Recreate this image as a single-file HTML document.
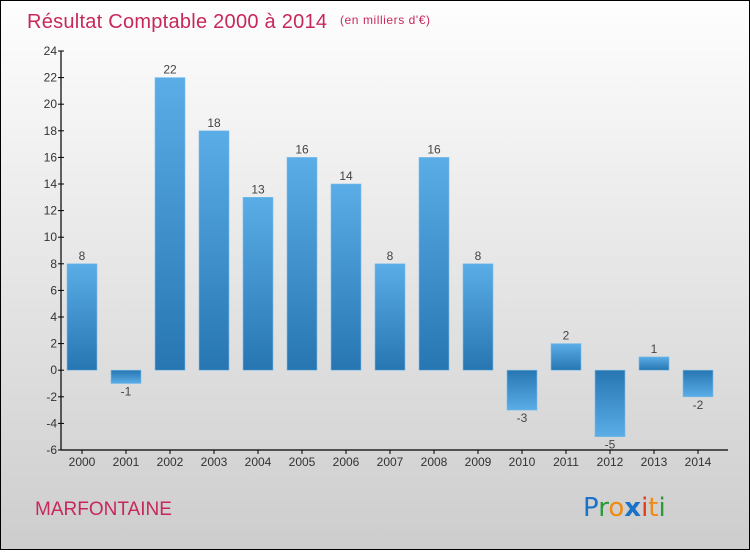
<!DOCTYPE html>
<html><head><meta charset="utf-8"><style>
html,body{margin:0;padding:0;}
body{width:750px;height:550px;overflow:hidden;font-family:"Liberation Sans",sans-serif;}
</style></head><body>
<svg width="750" height="550" xmlns="http://www.w3.org/2000/svg">
<defs>
<linearGradient id="bg" x1="0" y1="0" x2="0" y2="1"><stop offset="0" stop-color="#fefefe"/><stop offset="1" stop-color="#cdcdcd"/></linearGradient>
<linearGradient id="pos" x1="0" y1="0" x2="0" y2="1"><stop offset="0" stop-color="#5aade6"/><stop offset="1" stop-color="#2776b2"/></linearGradient>
<linearGradient id="neg" x1="0" y1="0" x2="0" y2="1"><stop offset="0" stop-color="#2776b2"/><stop offset="1" stop-color="#5aade6"/></linearGradient>
</defs>
<rect x="0.5" y="0.5" width="749" height="549" fill="url(#bg)" stroke="#000"/>
<text x="27" y="28" font-size="20" fill="#c8275a" textLength="300">Résultat Comptable 2000 à 2014</text>
<text x="340" y="24" font-size="12" fill="#c8275a" textLength="90">(en milliers d'€)</text>
<text x="35" y="515" font-size="19" fill="#c8275a">MARFONTAINE</text>
<g font-size="26" font-family="'DejaVu Sans',sans-serif">
<text x="583" y="516"><tspan fill="#1a73c7">P</tspan><tspan fill="#2a9a3a">r</tspan><tspan fill="#f08a10">o</tspan><tspan fill="#1a73c7" font-weight="bold">x</tspan><tspan fill="#e53a1a">i</tspan><tspan fill="#f08a10">t</tspan><tspan fill="#2a9a3a">i</tspan></text>
</g>
<g id="axes"></g>
<g id="bars"></g>
</svg>
<script>
const years=["2000","2001","2002","2003","2004","2005","2006","2007","2008","2009","2010","2011","2012","2013","2014"];
const values=[8,-1,22,18,13,16,14,8,16,8,-3,2,-5,1,-2];
const yTicks=[-6,-4,-2,0,2,4,6,8,10,12,14,16,18,20,22,24];
const NS="http://www.w3.org/2000/svg";
const y0=370.2, unit=13.3, axX=61, x0=82, step=44, bw=30;
function yS(v){return y0-v*unit;}
function xS(i){return x0+i*step;}
function mk(tag,attrs,parent,txt){const e=document.createElementNS(NS,tag);for(const k in attrs)e.setAttribute(k,attrs[k]);if(txt!==undefined)e.textContent=txt;parent.appendChild(e);return e;}
const ax=document.getElementById('axes'), bars=document.getElementById('bars');
let l=mk('line',{x1:axX,y1:yS(24),x2:axX,y2:yS(-6),stroke:'#000','stroke-width':1.2},ax);


l=mk('line',{x1:axX,y1:yS(-6),x2:xS(14)+30,y2:yS(-6),stroke:'#000','stroke-width':1.2},ax);


yTicks.forEach(t=>{
  mk('line',{x1:axX-3,y1:yS(t),x2:axX+3,y2:yS(t),stroke:'#000'},ax);
  const tx=mk('text',{x:axX-4,y:yS(t)+4,'font-size':12,fill:'#333','text-anchor':'end'},ax,String(t));
  
  
});
years.forEach((yr,i)=>{
  const v=values[i], x=xS(i);
  mk('line',{x1:x,y1:yS(-6),x2:x,y2:yS(-6)+4,stroke:'#000'},ax);
  const tx=mk('text',{x:x,y:yS(-6)+16,'font-size':12,fill:'#333','text-anchor':'middle'},ax,yr);
  
  
  const top=v>=0?yS(v):y0, h=Math.abs(v)*unit;
  const r=mk('rect',{x:x-bw/2,y:top,width:bw,height:h,fill:v>=0?'url(#pos)':'url(#neg)',stroke:'#7bbdea','stroke-width':0.6},bars);
  
  
  const ly=v>=0?yS(v)-4:yS(v)+12;
  const lb=mk('text',{x:x,y:ly,'font-size':12,fill:'#444','text-anchor':'middle'},bars,String(v));
  
  
});
</script>
</body></html>
